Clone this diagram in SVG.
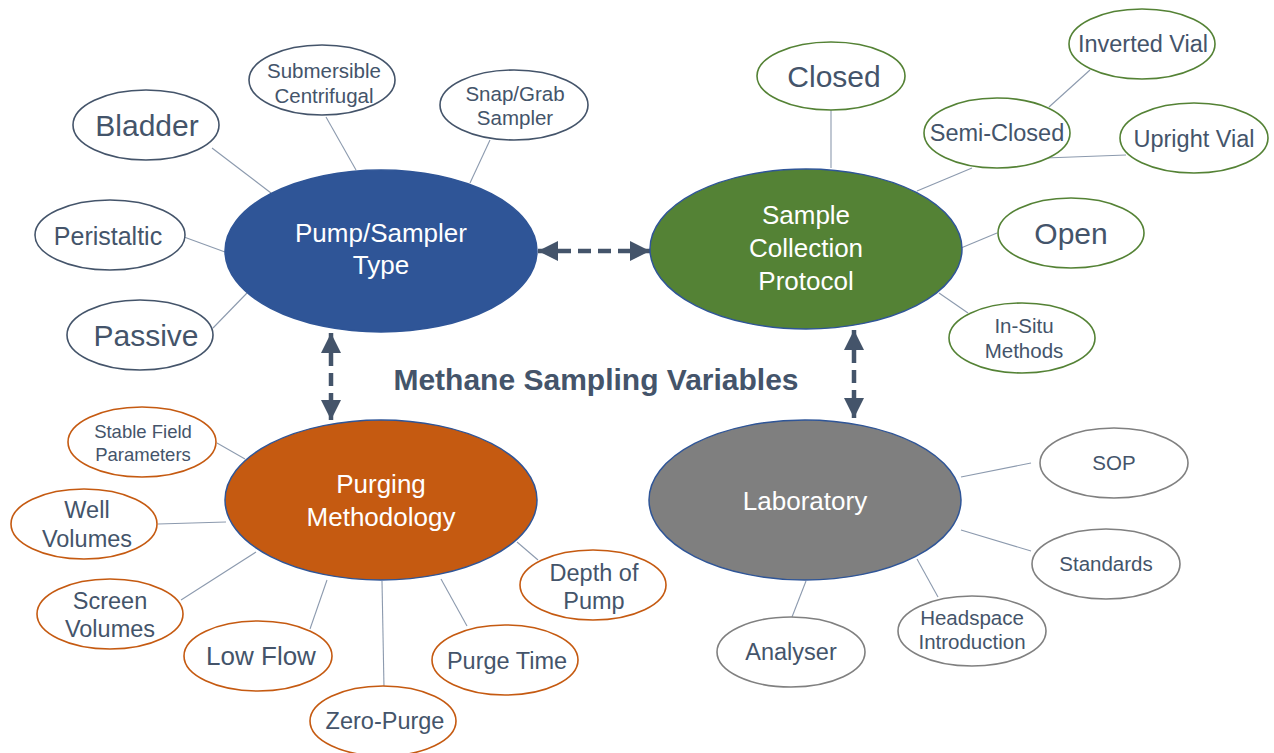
<svg xmlns="http://www.w3.org/2000/svg" width="1274" height="753" viewBox="0 0 1274 753">
<style>
text{font-family:"Liberation Sans",Arial,sans-serif;text-anchor:middle;fill:#44546A}
.main text{fill:#FFFFFF;font-size:26px}
.main ellipse{stroke:#2F5597;stroke-width:1.5}
.sat{fill:#FFFFFF;stroke-width:1.6}
.p{stroke:#44546A}
.g{stroke:#548235}
.o{stroke:#C55A11}
.k{stroke:#808080}
.f30{font-size:30px}
.f26{font-size:26px}
.f25{font-size:25px}
.f23{font-size:23.5px}
.f20{font-size:20.5px}
.f18{font-size:18.5px}
.conn line{stroke:#8C9AAE;stroke-width:1.1}
.arr line{stroke:#44546A;stroke-width:4.5;stroke-dasharray:13 7}
</style>
<defs>
<marker id="head" markerUnits="userSpaceOnUse" markerWidth="20" markerHeight="20" viewBox="0 0 20 20" refX="20" refY="10" orient="auto-start-reverse">
<path d="M0,0 L20,10 L0,20 Z" fill="#44546A"/>
</marker>
</defs>
<rect width="1274" height="753" fill="#FFFFFF"/>

<g id="connectors">
<g class="conn">
<line x1="212" y1="148" x2="271" y2="193"/>
<line x1="326" y1="117" x2="356" y2="170"/>
<line x1="490" y1="140" x2="470" y2="183"/>
<line x1="184" y1="237" x2="225" y2="252"/>
<line x1="213" y1="328" x2="247" y2="293"/>
<line x1="831" y1="110" x2="831" y2="168"/>
<line x1="1049" y1="107" x2="1090" y2="70"/>
<line x1="1045" y1="158" x2="1126" y2="155"/>
<line x1="972" y1="168" x2="917" y2="191"/>
<line x1="997" y1="233" x2="961" y2="248"/>
<line x1="968" y1="313" x2="939" y2="293"/>
<line x1="217" y1="443" x2="245" y2="459"/>
<line x1="158" y1="524" x2="226" y2="522"/>
<line x1="181" y1="600" x2="256" y2="552"/>
<line x1="310" y1="629" x2="327" y2="580"/>
<line x1="384" y1="688" x2="382" y2="581"/>
<line x1="467" y1="626" x2="441" y2="579"/>
<line x1="538" y1="560" x2="517" y2="542"/>
<line x1="1031" y1="463" x2="961" y2="477"/>
<line x1="1031" y1="551" x2="961" y2="530"/>
<line x1="938" y1="597" x2="917" y2="559"/>
<line x1="792" y1="617" x2="806" y2="581"/>
</g>
<g class="arr">
<line x1="538" y1="251" x2="650" y2="251" marker-start="url(#head)" marker-end="url(#head)"/>
<line x1="331" y1="333" x2="331" y2="420" marker-start="url(#head)" marker-end="url(#head)"/>
<line x1="854" y1="330" x2="854" y2="418" marker-start="url(#head)" marker-end="url(#head)"/>
</g>
</g>

<g id="pump" class="main">
<ellipse cx="381" cy="251" rx="156" ry="81" fill="#2F5597"/>
<text x="381" y="242">Pump/Sampler</text>
<text x="381" y="274">Type</text>
</g>
<g id="sample" class="main">
<ellipse cx="806" cy="249" rx="156" ry="80" fill="#548235"/>
<text x="806" y="224">Sample</text>
<text x="806" y="257">Collection</text>
<text x="806" y="290">Protocol</text>
</g>
<g id="purging" class="main">
<ellipse cx="381" cy="500" rx="156" ry="80" fill="#C55A11"/>
<text x="381" y="493">Purging</text>
<text x="381" y="526">Methodology</text>
</g>
<g id="laboratory" class="main">
<ellipse cx="805" cy="500" rx="156" ry="80" fill="#7F7F7F"/>
<text x="805" y="510">Laboratory</text>
</g>

<g id="title">
<text x="596" y="390" style="font-size:30px;font-weight:bold">Methane Sampling Variables</text>
</g>

<g id="bladder"><ellipse class="sat p" cx="146" cy="125" rx="73" ry="35"/><text class="f30" x="147" y="136">Bladder</text></g>
<g id="submersible"><ellipse class="sat p" cx="322" cy="80" rx="73" ry="35"/><text class="f20" x="324" y="78">Submersible</text><text class="f20" x="324" y="103">Centrifugal</text></g>
<g id="snapgrab"><ellipse class="sat p" cx="514" cy="105" rx="74" ry="35"/><text class="f20" x="515" y="101">Snap/Grab</text><text class="f20" x="515" y="125">Sampler</text></g>
<g id="peristaltic"><ellipse class="sat p" cx="110" cy="235" rx="75" ry="35"/><text class="f25" x="108" y="245">Peristaltic</text></g>
<g id="passive"><ellipse class="sat p" cx="140" cy="335" rx="73" ry="35"/><text class="f30" x="146" y="346">Passive</text></g>

<g id="closed"><ellipse class="sat g" cx="831" cy="76" rx="74" ry="34"/><text class="f30" x="834" y="87">Closed</text></g>
<g id="invertedvial"><ellipse class="sat g" cx="1142" cy="44" rx="73" ry="35"/><text class="f23" x="1143" y="52">Inverted Vial</text></g>
<g id="semiclosed"><ellipse class="sat g" cx="997" cy="133" rx="73" ry="35"/><text class="f23" x="997" y="141">Semi-Closed</text></g>
<g id="uprightvial"><ellipse class="sat g" cx="1194" cy="138" rx="74" ry="35"/><text class="f23" x="1194" y="147">Upright Vial</text></g>
<g id="open"><ellipse class="sat g" cx="1071" cy="233" rx="73" ry="35"/><text class="f30" x="1071" y="244">Open</text></g>
<g id="insitu"><ellipse class="sat g" cx="1022" cy="338" rx="73" ry="35"/><text class="f20" x="1024" y="333">In-Situ</text><text class="f20" x="1024" y="358">Methods</text></g>

<g id="stablefield"><ellipse class="sat o" cx="142" cy="442" rx="74" ry="35"/><text class="f18" x="143" y="438">Stable Field</text><text class="f18" x="143" y="461">Parameters</text></g>
<g id="wellvolumes"><ellipse class="sat o" cx="84" cy="524" rx="73" ry="35"/><text class="f23" x="87" y="518">Well</text><text class="f23" x="87" y="547">Volumes</text></g>
<g id="screenvolumes"><ellipse class="sat o" cx="110" cy="614" rx="73" ry="35"/><text class="f23" x="110" y="609">Screen</text><text class="f23" x="110" y="637">Volumes</text></g>
<g id="lowflow"><ellipse class="sat o" cx="258" cy="656" rx="74" ry="35"/><text class="f26" x="261" y="665">Low Flow</text></g>
<g id="zeropurge"><ellipse class="sat o" cx="383" cy="721" rx="73" ry="35"/><text class="f23" x="385" y="729">Zero-Purge</text></g>
<g id="purgetime"><ellipse class="sat o" cx="505" cy="660" rx="73" ry="35"/><text class="f23" x="507" y="669">Purge Time</text></g>
<g id="depthofpump"><ellipse class="sat o" cx="593" cy="585" rx="73" ry="35"/><text class="f23" x="594" y="581">Depth of</text><text class="f23" x="594" y="609">Pump</text></g>

<g id="sop"><ellipse class="sat k" cx="1114" cy="463" rx="74" ry="35"/><text class="f20" x="1114" y="470">SOP</text></g>
<g id="standards"><ellipse class="sat k" cx="1106" cy="564" rx="74" ry="35"/><text class="f20" x="1106" y="571">Standards</text></g>
<g id="headspace"><ellipse class="sat k" cx="972" cy="631" rx="74" ry="35"/><text class="f20" x="972" y="625">Headspace</text><text class="f20" x="972" y="649">Introduction</text></g>
<g id="analyser"><ellipse class="sat k" cx="791" cy="652" rx="74" ry="35"/><text class="f23" x="791" y="660">Analyser</text></g>
</svg>
